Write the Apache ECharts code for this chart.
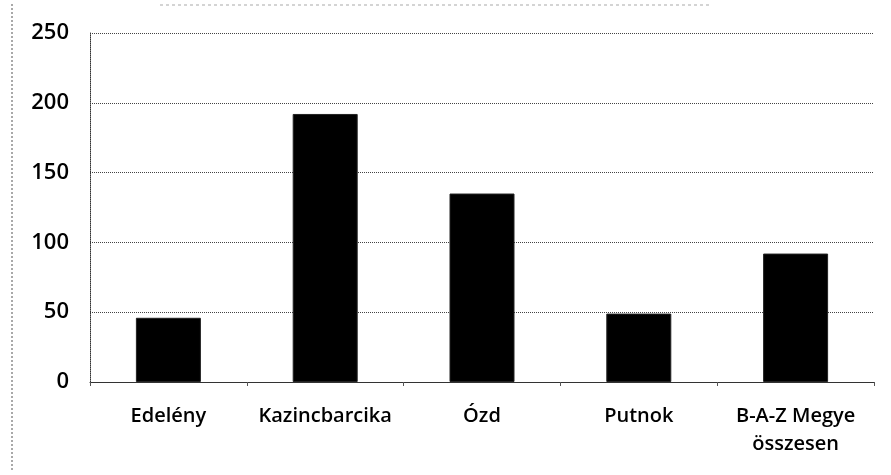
<!DOCTYPE html>
<html>
<head>
<meta charset="utf-8">
<script src="https://cdn.jsdelivr.net/npm/echarts@6/dist/echarts.min.js"></script>
<style>
  html, body { margin: 0; padding: 0; background: #fff; }
  #diagram { width: 891px; height: 475px; }
</style>
</head>
<body>
<div id="diagram"></div>
<script>
var categories = ["Edelény", "Kazincbarcika", "Ózd", "Putnok", "B-A-Z Megye\nösszesen"];
var values = [46, 192, 135, 49, 92];
var yTicks = [0, 50, 100, 150, 200, 250];

var myChart = echarts.init(document.getElementById("diagram"));
var option = {
  animation: false,
  grid: { left: 90, right: 17, top: 33, bottom: 93 },
  graphic: [
    {
      type: "line",
      shape: { x1: 12, y1: 4, x2: 12, y2: 470 },
      style: { stroke: "#555", lineWidth: 1, lineDash: [2, 2] }
    },
    {
      type: "line",
      shape: { x1: 160, y1: 5, x2: 710, y2: 5 },
      style: { stroke: "#aaa", lineWidth: 1, lineDash: [3, 3] }
    }
  ],
  xAxis: {
    type: "category",
    data: categories,
    axisLine: { lineStyle: { color: "#333", width: 1 } },
    axisTick: { show: true, alignWithLabel: false, length: 4, lineStyle: { color: "#555" } },
    axisLabel: {
      color: "#000",
      fontFamily: "Open Sans",
      fontSize: 20,
      fontWeight: 600,
      margin: 20,
      lineHeight: 28,
      interval: 0
    }
  },
  yAxis: {
    type: "value",
    min: 0,
    max: 250,
    interval: 50,
    axisLine: { show: true, lineStyle: { color: "#333", type: "dotted" } },
    axisTick: { show: false },
    splitLine: { lineStyle: { color: "#444", type: "dotted", width: 1 } },
    axisLabel: {
      color: "#000",
      fontFamily: "Open Sans",
      fontSize: 22,
      fontWeight: 600,
      margin: 21,
      formatter: function (v) { return yTicks.indexOf(v) >= 0 ? String(v) : ""; }
    }
  },
  series: [
    {
      type: "bar",
      data: values,
      barWidth: 65,
      itemStyle: { color: "#000", borderColor: "#222", borderWidth: 1 }
    }
  ]
};
myChart.setOption(option);
</script>
</body>
</html>
